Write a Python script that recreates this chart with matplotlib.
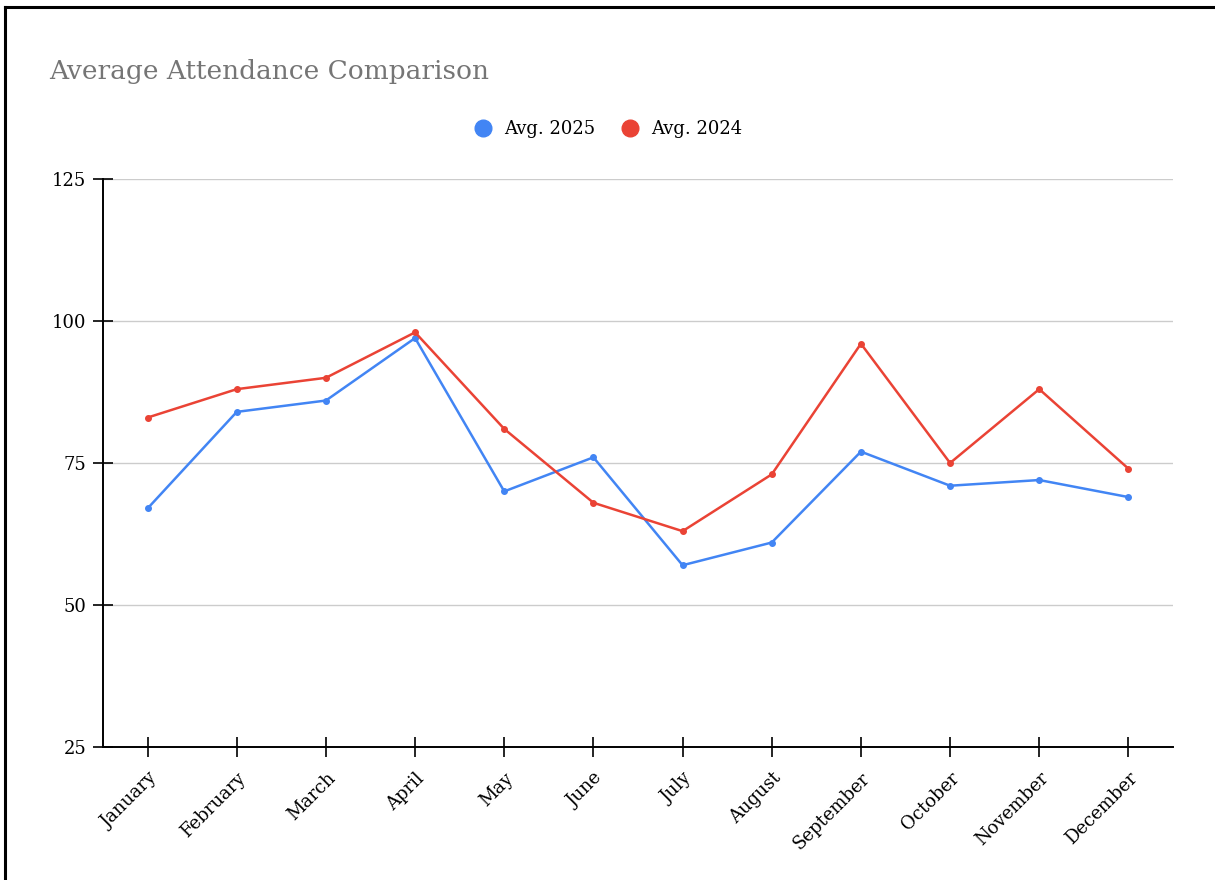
import matplotlib
matplotlib.use("Agg")
import matplotlib.pyplot as plt
from matplotlib.lines import Line2D

months = ["January", "February", "March", "April", "May", "June", "July",
          "August", "September", "October", "November", "December"]
avg_2025 = [67, 84, 86, 97, 70, 76, 57, 61, 77, 71, 72, 69]
avg_2024 = [83, 88, 90, 98, 81, 68, 63, 73, 96, 75, 88, 74]
y_ticks = [25, 50, 75, 100, 125]

BLUE = "#4285F4"
RED = "#EA4335"
TICK_FONT = "DejaVu Serif"

fig = plt.figure(figsize=(12.15, 8.8), dpi=100)
ax = fig.add_axes([103/1215, 1-747/880, (1173-103)/1215, (747-179)/880])

x = list(range(len(months)))
ax.plot(x, avg_2025, color=BLUE, lw=1.8, marker="o", ms=4, zorder=3)
ax.plot(x, avg_2024, color=RED, lw=1.8, marker="o", ms=4, zorder=3)

ax.set_xlim(-0.5, 11.5)
ax.set_ylim(25, 125)
ax.set_yticks(y_ticks)
ax.set_yticklabels([str(v) for v in y_ticks], fontfamily=TICK_FONT, fontsize=13)
ax.set_xticks(x)
ax.set_xticklabels(months, fontfamily=TICK_FONT, fontsize=13, rotation=45,
                   ha="right", rotation_mode="anchor")

ax.grid(axis="y", color="#cccccc", lw=1)
ax.set_axisbelow(True)
for s in ["top", "right"]:
    ax.spines[s].set_visible(False)
for s in ["left", "bottom"]:
    ax.spines[s].set_color("black")
    ax.spines[s].set_linewidth(1.4)
ax.tick_params(axis="both", direction="inout", length=14, width=1.2, color="black")
ax.tick_params(axis="y", pad=5)
ax.tick_params(axis="x", pad=9)

fig.text(49/1215, 1-72/880, "Average Attendance Comparison", fontfamily="DejaVu Serif",
         fontsize=19, color="#757575", ha="left", va="center")

handles = [Line2D([], [], ls="none", marker="o", ms=12, color=BLUE),
           Line2D([], [], ls="none", marker="o", ms=12, color=RED)]
fig.legend(handles, ["Avg. 2025", "Avg. 2024"], loc="center",
           bbox_to_anchor=(608/1215, 1-129/880), ncol=2, frameon=False,
           prop={"family": TICK_FONT, "size": 13}, handletextpad=0.7,
           columnspacing=1.4, handlelength=1.0)

# figure border (top & left)
fig.add_artist(Line2D([5/1215, 1], [1-7/880, 1-7/880], transform=fig.transFigure,
                      color="black", lw=2.2))
fig.add_artist(Line2D([5/1215, 5/1215], [0, 1-7/880], transform=fig.transFigure,
                      color="black", lw=2.2))

fig.savefig("out.png", dpi=100)
